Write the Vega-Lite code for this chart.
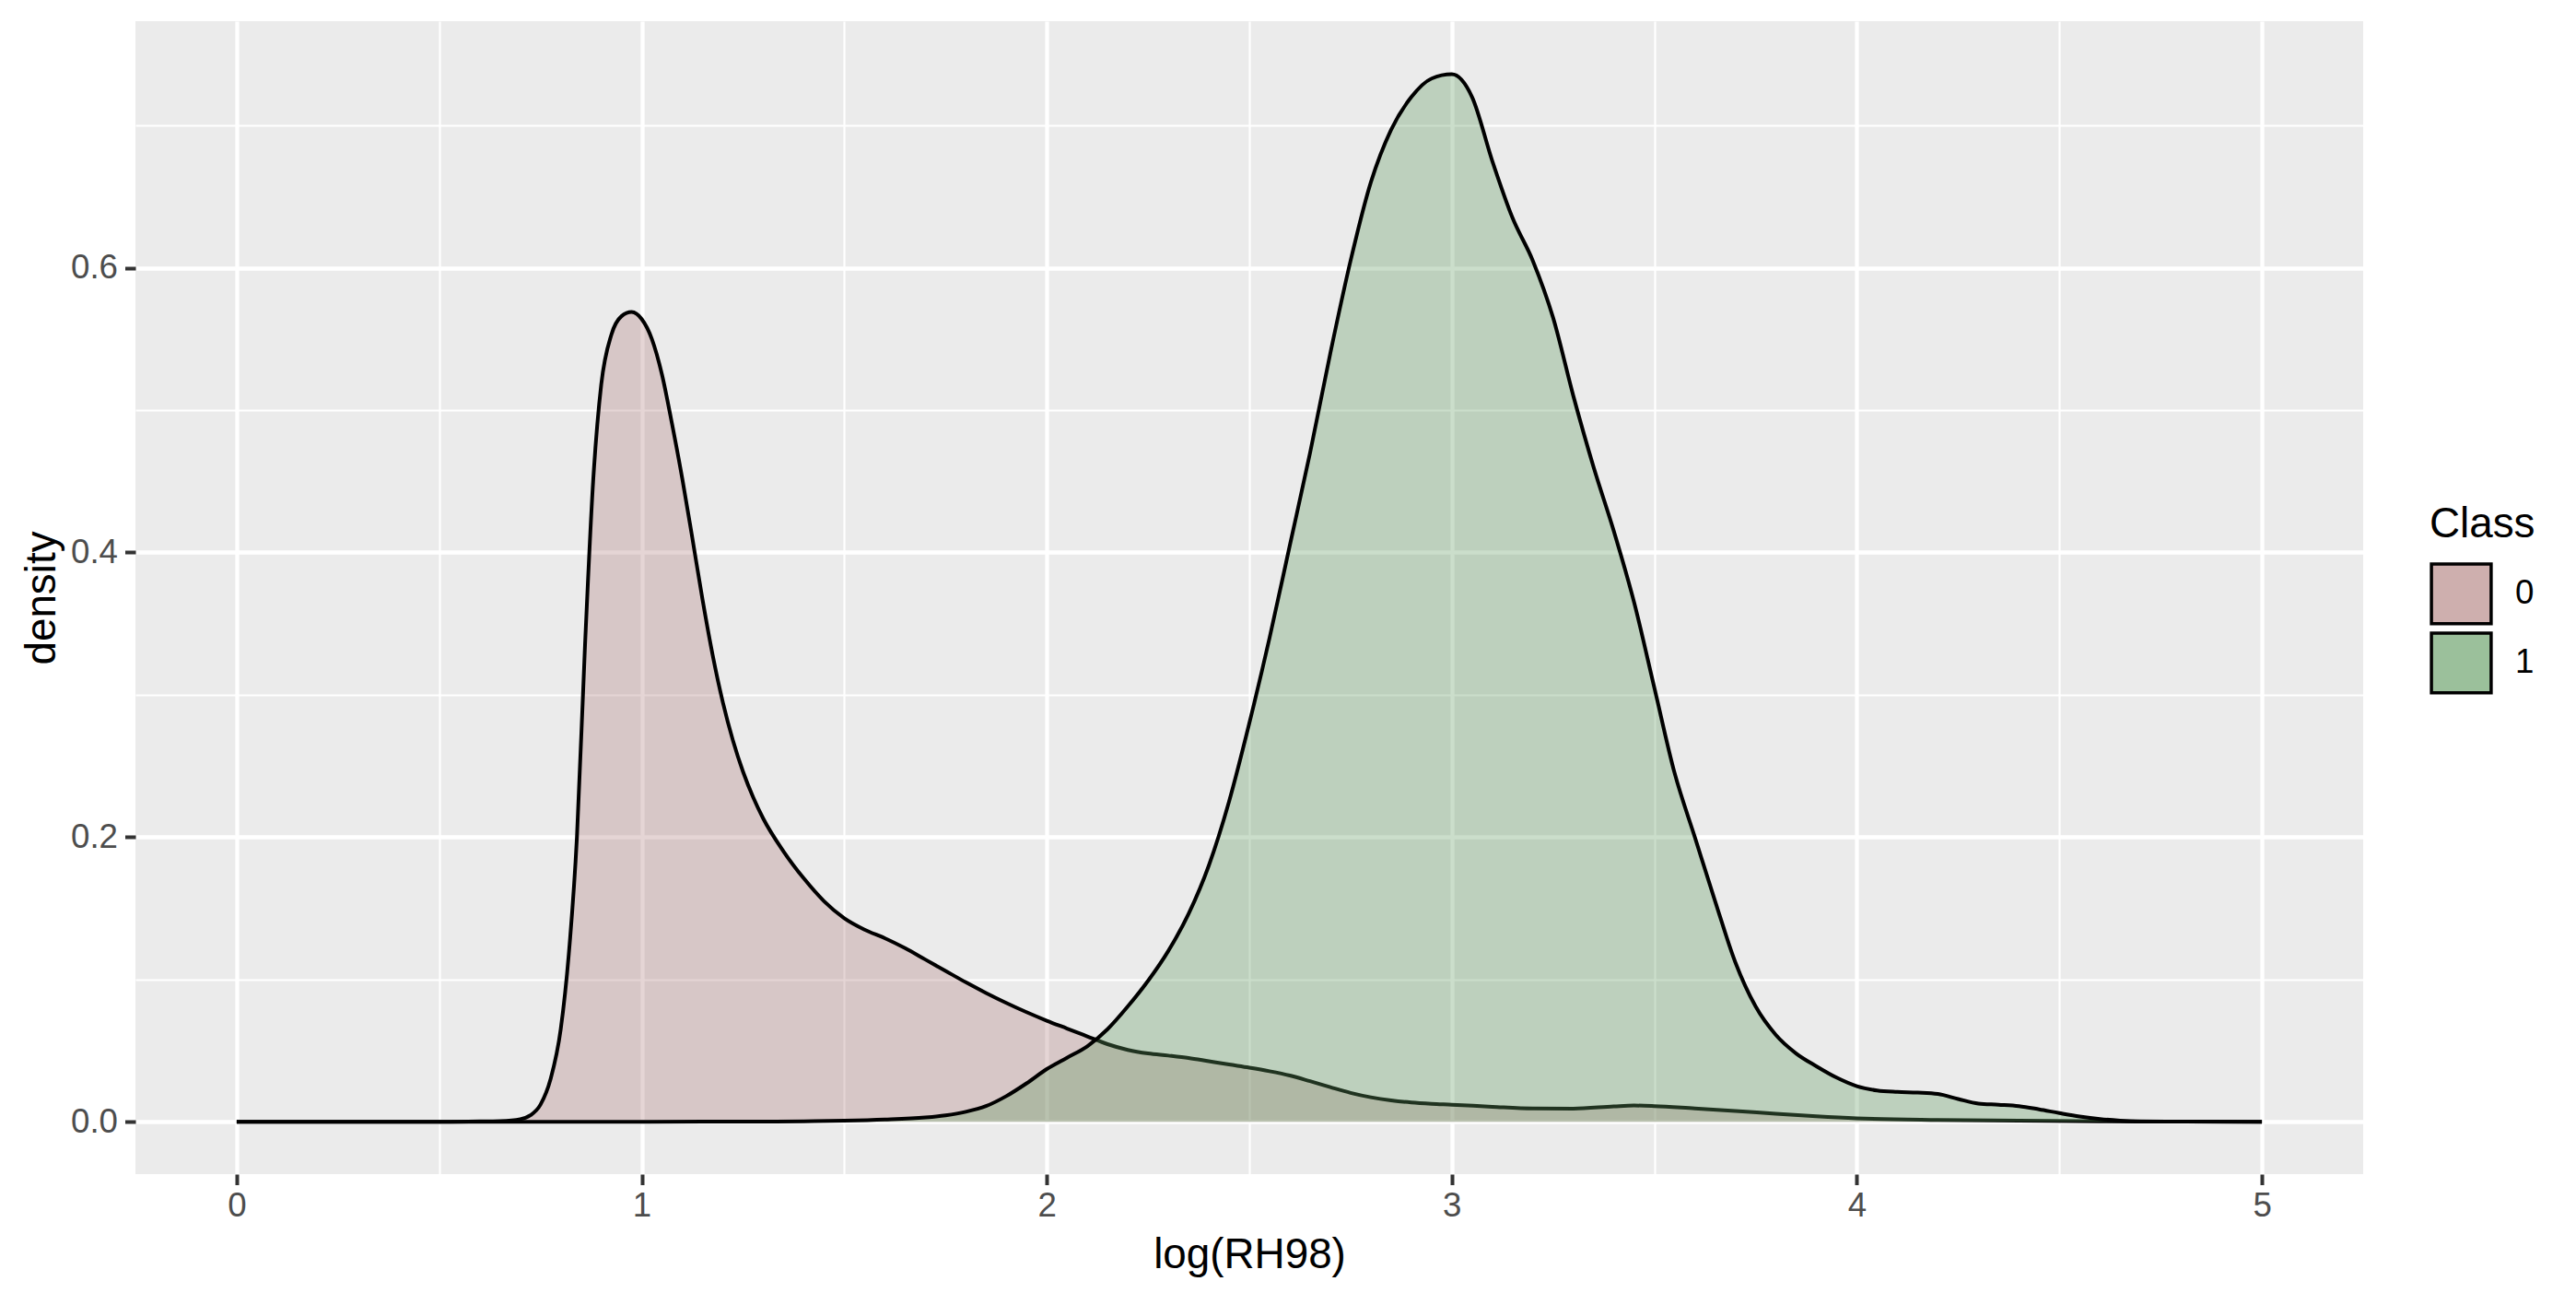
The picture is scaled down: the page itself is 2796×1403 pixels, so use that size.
{
  "$schema": "https://vega.github.io/schema/vega-lite/v6.json",
  "width": 2418,
  "height": 1251,
  "autosize": {"type": "none"},
  "padding": {"left": 147, "top": 23, "right": 231, "bottom": 129},
  "background": "white",
  "config": {
    "view": {"fill": "#EBEBEB", "stroke": null},
    "font": "Liberation Sans"
  },
  "datasets": {
    "d0": [
      {"x": 0, "density": 0}, {"x": 0.5, "density": 0}, {"x": 0.6, "density": 0.0002}, {"x": 0.65, "density": 0.0005},
      {"x": 0.7, "density": 0.0018}, {"x": 0.725, "density": 0.0045}, {"x": 0.75, "density": 0.012}, {"x": 0.775, "density": 0.03},
      {"x": 0.8, "density": 0.065}, {"x": 0.82, "density": 0.118}, {"x": 0.84, "density": 0.2}, {"x": 0.86, "density": 0.335},
      {"x": 0.88, "density": 0.45}, {"x": 0.9, "density": 0.518}, {"x": 0.925, "density": 0.553}, {"x": 0.95, "density": 0.566},
      {"x": 0.975, "density": 0.569}, {"x": 1.0, "density": 0.564}, {"x": 1.025, "density": 0.55}, {"x": 1.05, "density": 0.525},
      {"x": 1.075, "density": 0.49}, {"x": 1.1, "density": 0.452}, {"x": 1.125, "density": 0.41}, {"x": 1.15, "density": 0.367},
      {"x": 1.175, "density": 0.328}, {"x": 1.2, "density": 0.295}, {"x": 1.225, "density": 0.268}, {"x": 1.25, "density": 0.246},
      {"x": 1.275, "density": 0.228}, {"x": 1.3, "density": 0.213}, {"x": 1.35, "density": 0.19}, {"x": 1.4, "density": 0.171},
      {"x": 1.45, "density": 0.155}, {"x": 1.5, "density": 0.143}, {"x": 1.55, "density": 0.135}, {"x": 1.6, "density": 0.129},
      {"x": 1.65, "density": 0.122}, {"x": 1.7, "density": 0.114}, {"x": 1.75, "density": 0.106}, {"x": 1.8, "density": 0.098},
      {"x": 1.85, "density": 0.0905}, {"x": 1.9, "density": 0.0835}, {"x": 1.95, "density": 0.077}, {"x": 2.0, "density": 0.071},
      {"x": 2.05, "density": 0.0655}, {"x": 2.1, "density": 0.06}, {"x": 2.15, "density": 0.0545}, {"x": 2.2, "density": 0.0505},
      {"x": 2.25, "density": 0.048}, {"x": 2.3, "density": 0.0465}, {"x": 2.35, "density": 0.0448}, {"x": 2.4, "density": 0.0425},
      {"x": 2.45, "density": 0.0402}, {"x": 2.5, "density": 0.038}, {"x": 2.55, "density": 0.0355}, {"x": 2.6, "density": 0.0325},
      {"x": 2.65, "density": 0.0285}, {"x": 2.7, "density": 0.0243}, {"x": 2.75, "density": 0.0203}, {"x": 2.8, "density": 0.0172},
      {"x": 2.85, "density": 0.015}, {"x": 2.9, "density": 0.0135}, {"x": 2.95, "density": 0.0126}, {"x": 3.0, "density": 0.012},
      {"x": 3.1, "density": 0.0105}, {"x": 3.2, "density": 0.0093}, {"x": 3.3, "density": 0.0092}, {"x": 3.4, "density": 0.0108},
      {"x": 3.45, "density": 0.0114}, {"x": 3.5, "density": 0.011}, {"x": 3.6, "density": 0.0093}, {"x": 3.7, "density": 0.0076},
      {"x": 3.8, "density": 0.0056}, {"x": 3.9, "density": 0.0038}, {"x": 4.0, "density": 0.0024}, {"x": 4.2, "density": 0.0013},
      {"x": 4.4, "density": 0.0008}, {"x": 4.6, "density": 0.0003}, {"x": 4.8, "density": 0.0001}, {"x": 5.0, "density": 0}
    ],
    "d1": [
      {"x": 0, "density": 0}, {"x": 1.0, "density": 0}, {"x": 1.3, "density": 0.0001}, {"x": 1.4, "density": 0.0003},
      {"x": 1.5, "density": 0.0007}, {"x": 1.6, "density": 0.0015}, {"x": 1.7, "density": 0.003}, {"x": 1.75, "density": 0.0045},
      {"x": 1.8, "density": 0.007}, {"x": 1.85, "density": 0.011}, {"x": 1.9, "density": 0.018}, {"x": 1.95, "density": 0.027},
      {"x": 2.0, "density": 0.037}, {"x": 2.05, "density": 0.045}, {"x": 2.1, "density": 0.053}, {"x": 2.15, "density": 0.065},
      {"x": 2.2, "density": 0.081}, {"x": 2.25, "density": 0.099}, {"x": 2.3, "density": 0.12}, {"x": 2.35, "density": 0.146},
      {"x": 2.4, "density": 0.18}, {"x": 2.45, "density": 0.225}, {"x": 2.5, "density": 0.28}, {"x": 2.55, "density": 0.34},
      {"x": 2.6, "density": 0.405}, {"x": 2.65, "density": 0.47}, {"x": 2.7, "density": 0.54}, {"x": 2.75, "density": 0.605},
      {"x": 2.8, "density": 0.66}, {"x": 2.85, "density": 0.697}, {"x": 2.9, "density": 0.72}, {"x": 2.95, "density": 0.733},
      {"x": 3.0, "density": 0.736}, {"x": 3.05, "density": 0.72}, {"x": 3.1, "density": 0.675}, {"x": 3.15, "density": 0.635},
      {"x": 3.2, "density": 0.605}, {"x": 3.25, "density": 0.565}, {"x": 3.3, "density": 0.51}, {"x": 3.35, "density": 0.46},
      {"x": 3.4, "density": 0.415}, {"x": 3.45, "density": 0.365}, {"x": 3.5, "density": 0.305}, {"x": 3.55, "density": 0.245},
      {"x": 3.6, "density": 0.2}, {"x": 3.65, "density": 0.155}, {"x": 3.7, "density": 0.112}, {"x": 3.75, "density": 0.081},
      {"x": 3.8, "density": 0.061}, {"x": 3.85, "density": 0.048}, {"x": 3.9, "density": 0.039}, {"x": 3.95, "density": 0.031},
      {"x": 4.0, "density": 0.025}, {"x": 4.05, "density": 0.022}, {"x": 4.1, "density": 0.021}, {"x": 4.15, "density": 0.0205},
      {"x": 4.2, "density": 0.0195}, {"x": 4.25, "density": 0.016}, {"x": 4.3, "density": 0.0128}, {"x": 4.35, "density": 0.012},
      {"x": 4.4, "density": 0.011}, {"x": 4.45, "density": 0.0087}, {"x": 4.5, "density": 0.0061}, {"x": 4.55, "density": 0.0037},
      {"x": 4.6, "density": 0.0019}, {"x": 4.65, "density": 0.0008}, {"x": 4.7, "density": 0.0003}, {"x": 4.8, "density": 0.0001},
      {"x": 5.0, "density": 0}
    ]
  },
  "encoding": {
    "x": {
      "field": "x", "type": "quantitative",
      "scale": {"domain": [-0.25, 5.25], "nice": false, "zero": false},
      "axis": {
        "values": [0, 0.5, 1, 1.5, 2, 2.5, 3, 3.5, 4, 4.5, 5],
        "labelExpr": "datum.value % 1 === 0 ? format(datum.value, 'd') : ''",
        "grid": true,
        "gridColor": "white",
        "gridOpacity": 1,
        "gridWidth": {"condition": {"test": "datum.value % 1 === 0", "value": 4.3}, "value": 2.2},
        "tickOpacity": {"condition": {"test": "datum.value % 1 === 0", "value": 1}, "value": 0},
        "tickSize": 11.5, "tickWidth": 4, "tickColor": "#333333",
        "domain": false,
        "labelFont": "Liberation Sans", "labelFontSize": 36.7, "labelColor": "#4D4D4D", "labelPadding": 5,
        "title": "log(RH98)", "titleFont": "Liberation Sans", "titleFontSize": 45.8, "titleFontWeight": "normal",
        "titleColor": "black", "titlePadding": 12
      }
    },
    "y": {
      "field": "density", "type": "quantitative",
      "scale": {"domain": [-0.0368, 0.7733], "nice": false, "zero": false},
      "axis": {
        "values": [0, 0.1, 0.2, 0.3, 0.4, 0.5, 0.6, 0.7],
        "labelExpr": "round(datum.value * 10) % 2 === 0 ? format(datum.value, '.1f') : ''",
        "grid": true,
        "gridColor": "white",
        "gridOpacity": 1,
        "gridWidth": {"condition": {"test": "round(datum.value * 10) % 2 === 0", "value": 4.3}, "value": 2.2},
        "tickOpacity": {"condition": {"test": "round(datum.value * 10) % 2 === 0", "value": 1}, "value": 0},
        "tickSize": 11.5, "tickWidth": 4, "tickColor": "#333333",
        "domain": false,
        "labelFont": "Liberation Sans", "labelFontSize": 36.7, "labelColor": "#4D4D4D", "labelPadding": 8,
        "title": "density", "titleFont": "Liberation Sans", "titleFontSize": 45.8, "titleFontWeight": "normal",
        "titleColor": "black", "titlePadding": 7
      }
    }
  },
  "layer": [
    {
      "data": {"name": "d0"},
      "transform": [{"calculate": "'0'", "as": "Class"}],
      "mark": {"type": "area", "opacity": 0.33, "interpolate": "monotone"},
      "encoding": {
        "color": {
          "field": "Class", "type": "nominal",
          "scale": {"domain": ["0", "1"], "range": ["#B1817E", "#609C60"]},
          "legend": {
            "title": "Class",
            "orient": "none", "legendX": 2490, "legendY": 524,
            "padding": 0,
            "titleFont": "Liberation Sans", "titleFontSize": 45.8, "titleFontWeight": "normal", "titleColor": "black",
            "titlePadding": 17,
            "labelFont": "Liberation Sans", "labelFontSize": 36.7, "labelColor": "black", "labelOffset": 24,
            "symbolType": "square", "symbolSize": 4200, "symbolOpacity": 1,
            "symbolStrokeColor": "black", "symbolStrokeWidth": 3.5,
            "rowPadding": -4,
            "encode": {
              "symbols": {
                "update": {
                  "opacity": {"value": 1},
                  "fillOpacity": {"value": 0.63},
                  "stroke": {"value": "black"},
                  "strokeOpacity": {"value": 1},
                  "strokeWidth": {"value": 3.5}
                }
              }
            }
          }
        }
      }
    },
    {
      "data": {"name": "d0"},
      "mark": {"type": "line", "color": "black", "strokeWidth": 4, "interpolate": "monotone"},
      "encoding": {}
    },
    {
      "data": {"name": "d1"},
      "transform": [{"calculate": "'1'", "as": "Class"}],
      "mark": {"type": "area", "opacity": 0.33, "interpolate": "monotone"},
      "encoding": {
        "color": {"field": "Class", "type": "nominal"}
      }
    },
    {
      "data": {"name": "d1"},
      "mark": {"type": "line", "color": "black", "strokeWidth": 4, "interpolate": "monotone"},
      "encoding": {}
    }
  ]
}
